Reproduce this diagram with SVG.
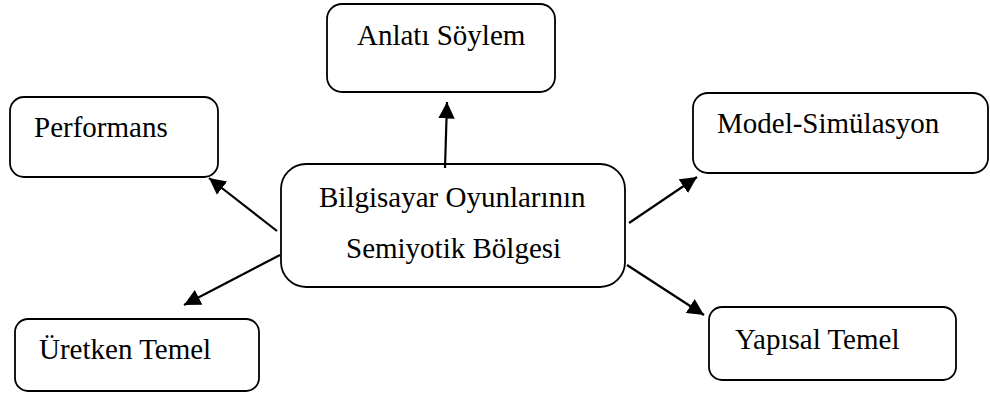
<svg xmlns="http://www.w3.org/2000/svg" width="990" height="397" viewBox="0 0 990 397">
<defs>
<style>
.box{fill:#fff;stroke:#000;stroke-width:1.8}
.lbl{font-family:"Liberation Serif","Times New Roman",serif;font-size:29px;fill:#000}
.con{stroke:#000;stroke-width:2.2;fill:none;marker-end:url(#ah)}
</style>
<marker id="ah" viewBox="0 0 10 10" refX="10" refY="5" markerWidth="7.5" markerHeight="8" markerUnits="strokeWidth" orient="auto">
<path d="M0,0 L10,5 L0,10 z" fill="#000"/>
</marker>
</defs>
<rect width="990" height="397" fill="#fff"/>
<g id="anlati">
<rect class="box" x="327" y="4" width="228" height="88" rx="15"/>
<text class="lbl" x="357" y="45">Anlatı Söylem</text>
</g>
<g id="performans">
<rect class="box" x="10" y="97" width="208" height="80" rx="14"/>
<text class="lbl" x="34" y="137">Performans</text>
</g>
<g id="model">
<rect class="box" x="693" y="93" width="295" height="80" rx="15"/>
<text class="lbl" x="717" y="133">Model-Simülasyon</text>
</g>
<g id="merkez">
<rect class="box" x="281" y="164" width="344" height="123" rx="25"/>
<text class="lbl" x="319" y="207">Bilgisayar Oyunlarının</text>
<text class="lbl" x="346" y="258">Semiyotik Bölgesi</text>
</g>
<g id="uretken">
<rect class="box" x="15" y="319" width="244" height="72" rx="13"/>
<text class="lbl" x="39" y="359">Üretken Temel</text>
</g>
<g id="yapisal">
<rect class="box" x="709" y="307" width="247" height="73" rx="13"/>
<text class="lbl" x="735" y="349">Yapısal Temel</text>
</g>
<g id="connectors">
<line class="con" x1="445" y1="168" x2="447" y2="102"/>
<line class="con" x1="277" y1="231" x2="209" y2="178"/>
<line class="con" x1="280" y1="255" x2="184" y2="305"/>
<line class="con" x1="629" y1="223" x2="697" y2="177"/>
<line class="con" x1="627" y1="265" x2="704" y2="315"/>
</g>
</svg>
